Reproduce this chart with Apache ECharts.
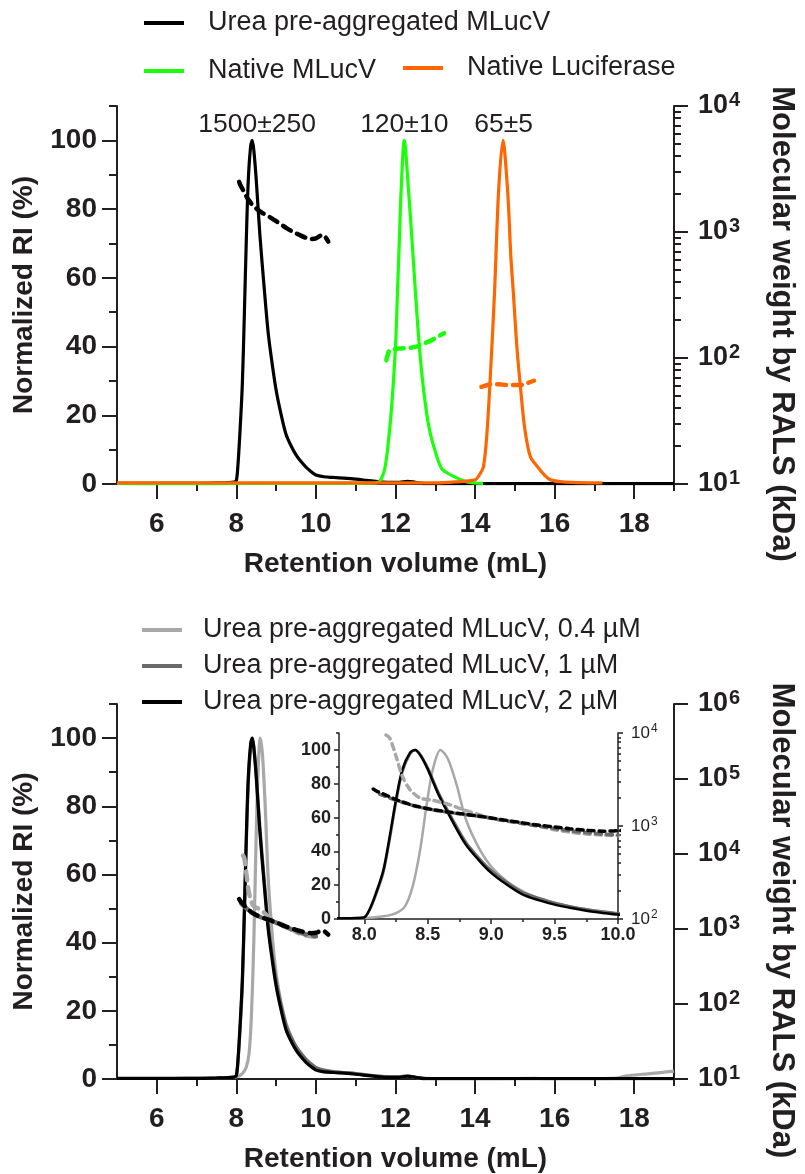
<!DOCTYPE html>
<html><head><meta charset="utf-8">
<script src="https://cdn.jsdelivr.net/npm/echarts@6/dist/echarts.min.js"></script>
<style>html,body{margin:0;padding:0;background:#fff}#c{width:805px;height:1174px}</style>
</head><body><div id="c"></div>
<script>
// ---------- DATA ----------
// Top panel
const nameUrea = 'Urea pre-aggregated MLucV';
const nameNativeMLucV = 'Native MLucV';
const nameNativeLuc = 'Native Luciferase';
// Bottom panel
const name04 = 'Urea pre-aggregated MLucV, 0.4 µM';
const name1 = 'Urea pre-aggregated MLucV, 1 µM';
const name2 = 'Urea pre-aggregated MLucV, 2 µM';

// Retention volume ticks
const xMajorTicks = [6, 8, 10, 12, 14, 16, 18];
const xMinorTicks = [7, 9, 11, 13, 15, 17, 19];
const riMajorTicks = [0, 20, 40, 60, 80, 100];
const riMinorTicks = [10, 30, 50, 70, 90, 110];
const insetXMajor = [8.0, 8.5, 9.0, 9.5, 10.0];
const insetXMinor = [8.25, 8.75, 9.25, 9.75];
const logMinorMultipliers = [2, 3, 4, 5, 6, 7, 8, 9];

// Urea pre-aggregated MLucV 2 µM (also the top-panel black trace): normalized RI
const urea2RI_x = [5, 6, 7, 7.5, 7.8, 7.95, 8.0, 8.04, 8.09, 8.15, 8.2, 8.25, 8.3, 8.36, 8.4, 8.44, 8.5, 8.59, 8.7, 8.8, 8.9, 9.0, 9.12, 9.25, 9.38, 9.5, 9.62, 9.75, 9.88, 10.0, 10.2, 10.45, 10.7, 11.0, 11.4, 11.8, 12.1, 12.3, 12.5, 12.75, 13.2, 14, 15, 16, 17, 18, 19];
const urea2RI_y = [0.2, 0.2, 0.2, 0.3, 0.4, 0.6, 1.0, 5.5, 15, 29, 49, 71, 88.5, 98.4, 100, 97, 88.5, 72.7, 57, 44, 35, 27.3, 20.5, 14.4, 11, 8.5, 6.6, 4.9, 3.6, 2.6, 2.1, 1.9, 1.7, 1.4, 0.9, 0.5, 0.5, 0.8, 0.5, 0.1, 0.1, 0.1, 0.1, 0.1, 0.1, 0.1, 0.1];
// molecular weight (kDa)
const urea2MW_x = [8.07, 8.1, 8.17, 8.25, 8.33, 8.41, 8.54, 8.65, 8.75, 8.88, 9.0, 9.12, 9.25, 9.38, 9.5, 9.62, 9.75, 9.88, 10.0, 10.1, 10.18, 10.25, 10.31];
const urea2MW_y = [2500, 2360, 2150, 1920, 1760, 1630, 1500, 1420, 1360, 1290, 1220, 1150, 1080, 1020, 975, 935, 900, 880, 890, 930, 950, 900, 840];

// 1 µM
const urea1RI_x = [7.5, 7.8, 7.95, 8.0, 8.04, 8.09, 8.15, 8.2, 8.25, 8.3, 8.36, 8.4, 8.44, 8.5, 8.59, 8.7, 8.8, 8.9, 9.0, 9.12, 9.25, 9.38, 9.5, 9.62, 9.75, 9.88, 10.0, 10.2, 10.45, 10.7, 11.0, 11.4, 11.8, 12.1, 12.3, 12.5, 12.75];
const urea1RI_y = [0.3, 0.4, 0.6, 1.0, 5, 14, 27.5, 47, 69, 87, 97.5, 100, 97.5, 89.5, 74, 58.5, 45.5, 36.5, 28.8, 22, 15.8, 12.3, 9.6, 7.6, 5.8, 4.4, 3.4, 2.6, 2.2, 1.9, 1.6, 1.0, 0.6, 0.6, 0.9, 0.5, 0.1];
const urea1MW_x = [8.12, 8.2, 8.3, 8.41, 8.54, 8.65, 8.75, 8.88, 9.0, 9.12, 9.25, 9.38, 9.5, 9.62, 9.75, 9.88, 10.0];
const urea1MW_y = [2200, 2000, 1800, 1620, 1490, 1410, 1350, 1280, 1210, 1130, 1060, 990, 940, 890, 850, 820, 800];

// 0.4 µM
const urea04RI_x = [6.5, 7.0, 7.5, 7.8, 8.0, 8.15, 8.25, 8.32, 8.38, 8.44, 8.49, 8.54, 8.6, 8.66, 8.73, 8.8, 8.91, 9.0, 9.12, 9.25, 9.38, 9.5, 9.62, 9.75, 9.88, 10.0, 10.2, 10.45, 10.7, 11.0, 11.4, 11.8, 12.1, 12.3, 12.5, 12.75, 13.5, 14.5, 15.5, 15.8, 17.5, 17.8, 18.2, 18.6, 19];
const urea04RI_y = [0.2, 0.3, 0.4, 0.5, 0.6, 1.6, 3.5, 7.5, 19, 41, 67, 88.5, 100, 94.5, 78.7, 59, 41, 31, 22.5, 16.4, 12.3, 9.5, 7.4, 5.8, 4.4, 3.2, 2.5, 2.1, 1.9, 1.6, 1.1, 0.7, 0.6, 0.9, 0.5, 0.2, 0.1, 0.1, 0.2, 0.1, 0.2, 0.9, 1.4, 1.8, 2.3];
const urea04MW_x = [8.17, 8.2, 8.25, 8.3, 8.36, 8.44, 8.54, 8.67, 8.78, 8.9, 9.0, 9.12, 9.25, 9.38, 9.5, 9.62, 9.75, 9.88, 10.0];
const urea04MW_y = [9500, 8830, 5610, 3420, 2460, 2000, 1890, 1700, 1500, 1330, 1220, 1140, 1075, 1000, 912, 860, 820, 800, 787];

// Native MLucV
const nativeMLucV_RI_x = [5, 6, 7, 8, 9, 10, 11, 11.5, 11.6, 11.68, 11.74, 11.8, 11.9, 12.0, 12.05, 12.1, 12.14, 12.22, 12.33, 12.42, 12.5, 12.6, 12.71, 12.85, 13.04, 13.16, 13.3, 13.5, 13.8, 14.2];
const nativeMLucV_RI_y = [0.1, 0.0, 0.0, 0.1, 0.2, 0.2, 0.2, 0.3, 0.8, 2.5, 5, 10, 22, 40, 56, 72, 85, 100, 85, 70, 56, 40, 27, 16, 7.9, 4.5, 3.2, 2.0, 0.6, 0.2];
const nativeMLucV_MW_x = [11.77, 11.8, 11.86, 12.0, 12.14, 12.3, 12.52, 12.7, 12.9, 13.05, 13.22];
const nativeMLucV_MW_y = [96, 105, 116, 118, 119, 120, 123, 130, 138, 147, 157];

// Native Luciferase
const nativeLuc_RI_x = [5, 6, 7, 8, 9, 10, 11, 12, 13, 13.5, 14.0, 14.1, 14.21, 14.3, 14.4, 14.49, 14.59, 14.7, 14.82, 14.9, 14.96, 15.05, 15.15, 15.25, 15.39, 15.57, 15.75, 15.9, 16.2, 16.6, 17.2];
const nativeLuc_RI_y = [0.3, 0.3, 0.3, 0.3, 0.3, 0.3, 0.3, 0.3, 0.3, 0.6, 1.2, 2.5, 5, 15, 35, 56, 85, 100, 85, 66, 56, 40, 27, 16, 7.9, 5, 2.5, 1.2, 0.6, 0.4, 0.3];
const nativeLuc_MW_x = [14.16, 14.3, 14.4, 14.6, 14.77, 14.95, 15.15, 15.3, 15.48];
const nativeLuc_MW_y = [59, 61, 62, 62, 61, 61, 61, 63, 66];

// Molecular-weight annotations (kDa)
const annotLabels = ['1500±250', '120±10', '65±5'];
const annotX = [8.52, 12.22, 14.72];
const annotY = [104.5, 104.5, 104.5];

// ---------- STYLE ----------
const FONT = "'Liberation Sans', Arial, Helvetica, sans-serif";
const INK = '#231f20';
const C_BLACK = '#000000', C_DGRAY = '#6a6a6a', C_LGRAY = '#a8a8a8';
const C_GREEN = '#1aff0a', C_ORANGE = '#ff6600';

const pairs = (xs, ys) => xs.map((x, i) => [x, ys[i]]);
const log10List = (decStart, decEnd) => {
  const out = [];
  for (let d = decStart; d < decEnd; d++) logMinorMultipliers.forEach(m => out.push(Math.log10(m * Math.pow(10, d))));
  return out;
};

function logLabel(size, sup, weight, margin) {
  return {
    margin: margin,
    formatter: v => '{b|10}{s|' + Math.round(Math.log10(v)) + '}',
    rich: {
      b: { fontSize: size, fontWeight: weight, color: INK, fontFamily: FONT, lineHeight: size + 4 },
      s: { fontSize: sup, fontWeight: weight, color: INK, fontFamily: FONT, lineHeight: sup, verticalAlign: 'top', padding: [0, 0, 0, 1] }
    }
  };
}
const axLine = (w) => ({ show: true, lineStyle: { color: INK, width: w } });
const noLabel = { show: false };
const noSplit = { show: false };

function mainX(grid) {
  return [
    { type: 'value', gridIndex: grid, position: 'bottom', min: 5, max: 19,
      axisLine: axLine(2), splitLine: noSplit,
      axisTick: { customValues: xMajorTicks, length: 15, lineStyle: { color: INK, width: 2 } },
      axisLabel: { customValues: xMajorTicks, margin: 26, fontSize: 28, fontWeight: 'bold', color: INK, fontFamily: FONT },
      name: 'Retention volume (mL)', nameLocation: 'middle', nameGap: 66,
      nameTextStyle: { fontSize: 28, fontWeight: 'bold', color: INK, fontFamily: FONT } },
    { type: 'value', gridIndex: grid, position: 'bottom', min: 5, max: 19,
      axisLine: { show: false }, splitLine: noSplit, axisLabel: noLabel,
      axisTick: { customValues: xMinorTicks, length: 7, lineStyle: { color: INK, width: 2 } } }
  ];
}
function leftRI(grid) {
  return [
    { type: 'value', gridIndex: grid, position: 'left', min: 0, max: 110,
      axisLine: axLine(2), splitLine: noSplit,
      axisTick: { customValues: riMajorTicks, length: 15, lineStyle: { color: INK, width: 2 } },
      axisLabel: { customValues: riMajorTicks, margin: 20, fontSize: 28, fontWeight: 'bold', color: INK, fontFamily: FONT },
      name: 'Normalized RI (%)', nameLocation: 'middle', nameGap: 79,
      nameTextStyle: { fontSize: 28, fontWeight: 'bold', color: INK, fontFamily: FONT } },
    { type: 'value', gridIndex: grid, position: 'left', min: 0, max: 110,
      axisLine: { show: false }, splitLine: noSplit, axisLabel: noLabel,
      axisTick: { customValues: riMinorTicks, length: 8, lineStyle: { color: INK, width: 2 } } }
  ];
}
const rightTitle = {
  name: 'Molecular weight by RALS (kDa)', nameLocation: 'middle', nameGap: 92, nameRotate: -90,
  nameTextStyle: { fontSize: 31, fontWeight: 'bold', color: INK, fontFamily: FONT, padding: [0, 0, 0, 58] }
};

const xAxes = [].concat(
  mainX(0), mainX(1),
  [
    { type: 'value', gridIndex: 2, position: 'bottom', min: 7.8, max: 10,
      axisLine: axLine(1.5), splitLine: noSplit,
      axisTick: { customValues: insetXMajor, length: 5, lineStyle: { color: INK, width: 1.5 } },
      axisLabel: { customValues: insetXMajor, margin: 7, fontSize: 18, fontWeight: 'bold', color: INK, fontFamily: FONT, formatter: v => v.toFixed(1) } },
    { type: 'value', gridIndex: 2, position: 'bottom', min: 7.8, max: 10,
      axisLine: { show: false }, splitLine: noSplit, axisLabel: noLabel,
      axisTick: { customValues: insetXMinor, length: 3, lineStyle: { color: INK, width: 1.5 } } }
  ]
);

const yAxes = [].concat(
  leftRI(0),
  [
    Object.assign({ type: 'log', gridIndex: 0, position: 'right', min: 10, max: 10000, logBase: 10,
      axisLine: axLine(2), splitLine: noSplit, minorTick: { show: false },
      axisTick: { length: 14, lineStyle: { color: INK, width: 2 } },
      axisLabel: logLabel(27, 20, 'bold', 24) }, rightTitle),
    { type: 'value', gridIndex: 0, position: 'right', min: 1, max: 4,
      axisLine: { show: false }, splitLine: noSplit, axisLabel: noLabel,
      axisTick: { customValues: log10List(1, 4), length: 7, lineStyle: { color: INK, width: 2 } } }
  ],
  leftRI(1),
  [
    Object.assign({ type: 'log', gridIndex: 1, position: 'right', min: 10, max: 1000000, logBase: 10,
      axisLine: axLine(2), splitLine: noSplit, minorTick: { show: false },
      axisTick: { length: 14, lineStyle: { color: INK, width: 2 } },
      axisLabel: logLabel(27, 20, 'bold', 24) }, rightTitle),
    // inset
    { type: 'value', gridIndex: 2, position: 'left', min: 0, max: 110,
      axisLine: axLine(1.5), splitLine: noSplit,
      axisTick: { customValues: riMajorTicks, length: 5, lineStyle: { color: INK, width: 1.5 } },
      axisLabel: { customValues: riMajorTicks, margin: 8, fontSize: 18, fontWeight: 'bold', color: INK, fontFamily: FONT } },
    { type: 'value', gridIndex: 2, position: 'left', min: 0, max: 110,
      axisLine: { show: false }, splitLine: noSplit, axisLabel: noLabel,
      axisTick: { customValues: riMinorTicks, length: 3, lineStyle: { color: INK, width: 1.5 } } },
    { type: 'log', gridIndex: 2, position: 'right', min: 100, max: 10000, logBase: 10,
      axisLine: axLine(1.5), splitLine: noSplit, minorTick: { show: false },
      axisTick: { length: 5, lineStyle: { color: INK, width: 1.5 } },
      axisLabel: logLabel(17, 12, 'normal', 13) },
    { type: 'value', gridIndex: 2, position: 'right', min: 2, max: 4,
      axisLine: { show: false }, splitLine: noSplit, axisLabel: noLabel,
      axisTick: { customValues: log10List(2, 4), length: 3, lineStyle: { color: INK, width: 1.5 } } }
  ]
);
// yAxis indices: 0 top RI, 1 top RI minor, 2 top log, 3 top log minor,
// 4 bottom RI, 5 bottom RI minor, 6 bottom log, 7 inset RI, 8 inset RI minor, 9 inset log, 10 inset log minor

function riLine(name, xs, ys, color, xi, yi, w) {
  return { type: 'line', name: name, data: pairs(xs, ys), xAxisIndex: xi, yAxisIndex: yi,
    showSymbol: false, symbol: 'none', smooth: 0.3, silent: true, animation: false,
    itemStyle: { color: color }, lineStyle: { color: color, width: w } };
}
function mwLine(name, xs, ys, color, xi, yi, w, dash) {
  return { type: 'line', name: name, data: pairs(xs, ys), xAxisIndex: xi, yAxisIndex: yi,
    showSymbol: false, symbol: 'none', smooth: 0.3, silent: true, animation: false,
    itemStyle: { color: color }, lineStyle: { color: color, width: w, type: dash, cap: 'round' } };
}

const DASH = [9, 7], IDASH = [6, 5];
const series = [
  // top panel
  riLine(nameUrea, urea2RI_x, urea2RI_y, C_BLACK, 0, 0, 3.2),
  riLine(nameNativeMLucV, nativeMLucV_RI_x, nativeMLucV_RI_y, C_GREEN, 0, 0, 3.2),
  riLine(nameNativeLuc, nativeLuc_RI_x, nativeLuc_RI_y, C_ORANGE, 0, 0, 3.2),
  mwLine(nameUrea + ' MW', urea2MW_x, urea2MW_y, C_BLACK, 0, 2, 4.5, DASH),
  mwLine(nameNativeMLucV + ' MW', nativeMLucV_MW_x, nativeMLucV_MW_y, C_GREEN, 0, 2, 4.5, DASH),
  mwLine(nameNativeLuc + ' MW', nativeLuc_MW_x, nativeLuc_MW_y, C_ORANGE, 0, 2, 4.5, DASH),
  { type: 'scatter', name: 'annotations', xAxisIndex: 0, yAxisIndex: 0, symbolSize: 0, silent: true, animation: false,
    itemStyle: { opacity: 1, color: INK },
    data: annotX.map((x, i) => [x, annotY[i], annotLabels[i]]),
    label: { show: true, position: 'inside', formatter: p => p.value[2], fontSize: 26.5, color: INK, opacity: 1, fontFamily: FONT } },
  // bottom panel
  riLine(name04, urea04RI_x, urea04RI_y, C_LGRAY, 2, 4, 3.2),
  riLine(name1, urea1RI_x, urea1RI_y, C_DGRAY, 2, 4, 3.2),
  riLine(name2, urea2RI_x, urea2RI_y, C_BLACK, 2, 4, 3.2),
  mwLine(name04 + ' MW', urea04MW_x, urea04MW_y, C_LGRAY, 2, 6, 4.5, DASH),
  mwLine(name1 + ' MW', urea1MW_x, urea1MW_y, C_DGRAY, 2, 6, 4.5, DASH),
  mwLine(name2 + ' MW', urea2MW_x, urea2MW_y, C_BLACK, 2, 6, 4.5, DASH),
  // inset
  riLine(name04, urea04RI_x, urea04RI_y, C_LGRAY, 4, 7, 2.5),
  riLine(name1, urea1RI_x, urea1RI_y, C_DGRAY, 4, 7, 2.5),
  riLine(name2, urea2RI_x, urea2RI_y, C_BLACK, 4, 7, 2.5),
  mwLine(name04 + ' MW', urea04MW_x, urea04MW_y, C_LGRAY, 4, 9, 3.5, IDASH),
  mwLine(name1 + ' MW', urea1MW_x, urea1MW_y, C_DGRAY, 4, 9, 3.5, IDASH),
  mwLine(name2 + ' MW', urea2MW_x, urea2MW_y, C_BLACK, 4, 9, 3.5, IDASH)
];

const legendBase = { orient: 'horizontal', padding: 0, itemWidth: 40, itemHeight: 4, icon: 'rect', selectedMode: false,
  textStyle: { fontSize: 27, fontFamily: FONT, color: INK, lineHeight: 30, padding: [0, 0, 0, 19] } };
const legendBase2 = Object.assign({}, legendBase, { textStyle: Object.assign({}, legendBase.textStyle, { padding: [0, 0, 0, 16] }) });
const legends = [
  Object.assign({ left: 144, top: 8, data: [nameUrea] }, legendBase),
  Object.assign({ left: 144, top: 56, data: [nameNativeMLucV] }, legendBase),
  Object.assign({ left: 403, top: 53, data: [nameNativeLuc] }, legendBase),
  Object.assign({ left: 142, top: 615, data: [name04] }, legendBase2),
  Object.assign({ left: 142, top: 651, data: [name1] }, legendBase2),
  Object.assign({ left: 142, top: 687, data: [name2] }, legendBase2)
];

const option = {
  backgroundColor: '#ffffff',
  animation: false,
  textStyle: { fontFamily: FONT },
  grid: [
    { left: 117, right: 121, top: 106, height: 378 },
    { left: 117, right: 123, top: 704, height: 376 },
    { left: 339, right: 187, top: 733, height: 186 }
  ],
  legend: legends,
  xAxis: xAxes,
  yAxis: yAxes,
  series: series
};
const chart = echarts.init(document.getElementById('c'), null, { renderer: 'canvas' });
chart.setOption(option);
</script></body></html>
